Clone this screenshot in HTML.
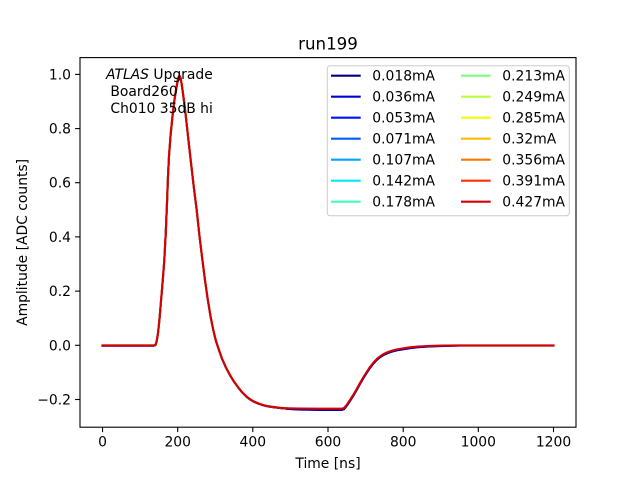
<!DOCTYPE html>
<html><head><meta charset="utf-8"><style>
html,body{margin:0;padding:0;background:#fff;}
svg{display:block;}
text{font-family:"DejaVu Sans","Liberation Sans",sans-serif;fill:#000;}
</style></head><body>
<svg width="640" height="480" viewBox="0 0 640 480" xmlns="http://www.w3.org/2000/svg">
<rect width="640" height="480" fill="#fff"/>
<defs>
<clipPath id="ax"><rect x="80" y="57.6" width="496" height="369.6"/></clipPath>
<polyline id="top" points="102.5,345.4 154,345.4 155.5,344.8 156.7,341 158,333 159.3,321 160.5,307 161.7,293 163,277 164.3,260 165.7,234 167,203 168,176 169,156 170.5,136 172.7,114 174.7,98 176.7,86 178,79 179.3,75.5 180.5,77.5 181.7,84 183.5,97 185.7,115 188,136 190.7,160 193.7,186 196.7,210 199.5,236 202.3,259 205,280 207.7,299 210.5,316 213.3,330 216,341 219,350 222,358.5 226,367.5 230,375 234,381.5 238,387 242,392 246.7,396.7 250.5,399.5 254,401.5 258.5,403.5 263,405 268,406.2 274,407 280,407.8 286.7,408.3"/>
</defs>
<g clip-path="url(#ax)" fill="none" stroke-width="2.08" stroke-linejoin="round" stroke-linecap="square">
<use href="#top" stroke="#000080" transform="translate(0,0.3)"/>
<polyline stroke="#000080" points="286.7,408.9 300,409.6 320,410 341.7,410 344,409.2 347,405.5 350,401 353.5,395.5 356.7,390 360,384 363.5,378 367,372.5 370,368 373.5,363.5 377,359.8 380.5,357 384,354.8 388,353 392,351.6 397,350.4 403,349.4 410,348.2 418,347.2 430,346.4 445,345.9 460,345.6 553.5,345.6"/>
<use href="#top" stroke="#0000d2" transform="translate(0,0.2)"/>
<polyline stroke="#0000d2" points="286.7,408.7 300,409.3 320,409.6 341.7,409.6 344,408.8 347,405 350,400.5 353.5,395 356.7,389.5 360,383.5 363.5,377.5 367,372 370,367.5 373.5,363 377,359.3 380.5,356.5 384,354.3 388,352.5 392,351.1 397,349.9 403,348.9 410,347.8 418,346.9 430,346.2 445,345.7 460,345.5 553.5,345.5"/>
<use href="#top" stroke="#ffb900"/>
<use href="#top" stroke="#d20000"/>
<polyline stroke="#d20000" points="286.7,408.3 300,408.5 320,408.7 341.7,408.7 344,408 347,404.5 350,400 353.5,394.5 356.7,389 360,383 363.5,377 367,371.5 370,367 373.5,362.5 377,358.8 380.5,356 384,353.8 388,352 392,350.6 397,349.4 403,348.4 410,347.3 418,346.5 430,345.9 445,345.6 460,345.4 553.5,345.4"/>
</g>
<!-- axes frame -->
<rect x="80" y="57.6" width="496" height="369.6" fill="none" stroke="#000" stroke-width="1.1"/>
<!-- ticks -->
<g stroke="#000" stroke-width="1.1">
<line x1="102.55" y1="427.2" x2="102.55" y2="432.1"/>
<line x1="177.7" y1="427.2" x2="177.7" y2="432.1"/>
<line x1="252.8" y1="427.2" x2="252.8" y2="432.1"/>
<line x1="328" y1="427.2" x2="328" y2="432.1"/>
<line x1="403.2" y1="427.2" x2="403.2" y2="432.1"/>
<line x1="478.3" y1="427.2" x2="478.3" y2="432.1"/>
<line x1="553.5" y1="427.2" x2="553.5" y2="432.1"/>
<line x1="75.1" y1="399.5" x2="80" y2="399.5"/>
<line x1="75.1" y1="345.3" x2="80" y2="345.3"/>
<line x1="75.1" y1="291.1" x2="80" y2="291.1"/>
<line x1="75.1" y1="236.9" x2="80" y2="236.9"/>
<line x1="75.1" y1="182.7" x2="80" y2="182.7"/>
<line x1="75.1" y1="128.6" x2="80" y2="128.6"/>
<line x1="75.1" y1="74.4" x2="80" y2="74.4"/>
</g>
<g font-size="13.89" text-anchor="middle">
<text x="102.55" y="446.5">0</text>
<text x="177.7" y="446.5">200</text>
<text x="252.8" y="446.5">400</text>
<text x="328" y="446.5">600</text>
<text x="403.2" y="446.5">800</text>
<text x="478.3" y="446.5">1000</text>
<text x="553.5" y="446.5">1200</text>
<text x="328" y="468">Time [ns]</text>
</g>
<g font-size="13.89" text-anchor="end">
<text x="71" y="404.5">−0.2</text>
<text x="71" y="350.3">0.0</text>
<text x="71" y="296.1">0.2</text>
<text x="71" y="241.9">0.4</text>
<text x="71" y="187.7">0.6</text>
<text x="71" y="133.6">0.8</text>
<text x="71" y="79.4">1.0</text>
</g>
<text font-size="13.89" text-anchor="middle" transform="translate(27,242.4) rotate(-90)">Amplitude [ADC counts]</text>
<text font-size="16.67" text-anchor="middle" x="328" y="49.3">run199</text>
<!-- annotation -->
<g font-size="13.89">
<text x="106" y="79"><tspan font-style="italic">ATLAS</tspan> Upgrade</text>
<text x="106" y="96.2" xml:space="preserve"> Board260</text>
<text x="106" y="113" xml:space="preserve"> Ch010 35dB hi</text>
</g>
<!-- legend -->
<rect x="327.3" y="65.7" width="242" height="150" rx="2.8" ry="2.8" fill="#fff" fill-opacity="0.8" stroke="#cccccc" stroke-width="1"/>
<g stroke-width="2.08">
<line x1="331" y1="75.7" x2="360.7" y2="75.7" stroke="#000080"/>
<line x1="331" y1="96.7" x2="360.7" y2="96.7" stroke="#0000d2"/>
<line x1="331" y1="117.7" x2="360.7" y2="117.7" stroke="#0012ff"/>
<line x1="331" y1="138.7" x2="360.7" y2="138.7" stroke="#005bff"/>
<line x1="331" y1="159.7" x2="360.7" y2="159.7" stroke="#00a4ff"/>
<line x1="331" y1="180.7" x2="360.7" y2="180.7" stroke="#06e6f1"/>
<line x1="331" y1="201.7" x2="360.7" y2="201.7" stroke="#40ffb6"/>
<line x1="461" y1="75.7" x2="490.7" y2="75.7" stroke="#7bff7b"/>
<line x1="461" y1="96.7" x2="490.7" y2="96.7" stroke="#b6ff40"/>
<line x1="461" y1="117.7" x2="490.7" y2="117.7" stroke="#f1fc06"/>
<line x1="461" y1="138.7" x2="490.7" y2="138.7" stroke="#ffb900"/>
<line x1="461" y1="159.7" x2="490.7" y2="159.7" stroke="#ff7500"/>
<line x1="461" y1="180.7" x2="490.7" y2="180.7" stroke="#ff3200"/>
<line x1="461" y1="201.7" x2="490.7" y2="201.7" stroke="#d20000"/>
</g>
<g font-size="13.89">
<text x="372.3" y="80.7">0.018mA</text>
<text x="372.3" y="101.7">0.036mA</text>
<text x="372.3" y="122.7">0.053mA</text>
<text x="372.3" y="143.7">0.071mA</text>
<text x="372.3" y="164.7">0.107mA</text>
<text x="372.3" y="185.7">0.142mA</text>
<text x="372.3" y="206.7">0.178mA</text>
<text x="502.3" y="80.7">0.213mA</text>
<text x="502.3" y="101.7">0.249mA</text>
<text x="502.3" y="122.7">0.285mA</text>
<text x="502.3" y="143.7">0.32mA</text>
<text x="502.3" y="164.7">0.356mA</text>
<text x="502.3" y="185.7">0.391mA</text>
<text x="502.3" y="206.7">0.427mA</text>
</g>
</svg>
</body></html>
